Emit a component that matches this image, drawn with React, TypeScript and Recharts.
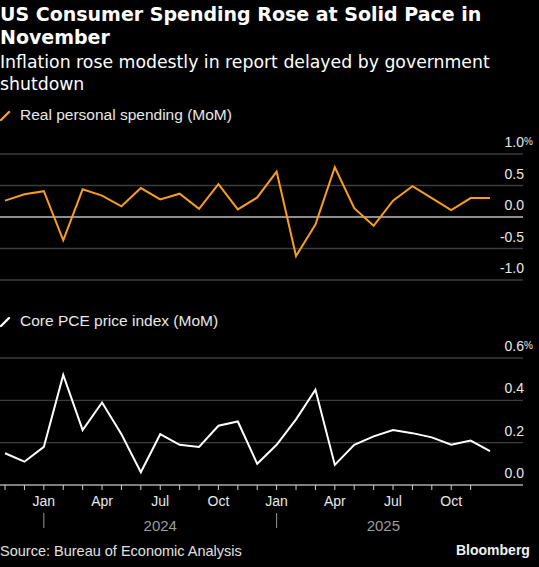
import React from "react";
import { CartesianGrid, Line, LineChart, ReferenceLine, XAxis, YAxis } from "recharts";

const months = [
  "Nov 2023", "Dec 2023", "Jan 2024", "Feb 2024", "Mar 2024", "Apr 2024", "May 2024",
  "Jun 2024", "Jul 2024", "Aug 2024", "Sep 2024", "Oct 2024", "Nov 2024", "Dec 2024",
  "Jan 2025", "Feb 2025", "Mar 2025", "Apr 2025", "May 2025", "Jun 2025", "Jul 2025",
  "Aug 2025", "Sep 2025", "Oct 2025", "Nov 2025", "Dec 2025",
];

const realSpending = [
  0.26, 0.36, 0.41, -0.37, 0.44, 0.34, 0.17, 0.46, 0.28, 0.37, 0.13, 0.52, 0.12,
  0.31, 0.72, -0.62, -0.12, 0.79, 0.14, -0.14, 0.26, 0.49, 0.3, 0.11, 0.3, 0.3,
];

const corePce = [
  0.15, 0.11, 0.18, 0.52, 0.26, 0.39, 0.24, 0.06, 0.24, 0.19, 0.18, 0.28, 0.3,
  0.1, 0.19, 0.31, 0.45, 0.095, 0.19, 0.23, 0.26, 0.245, 0.225, 0.19, 0.21, 0.16,
];

const spendingTicks = [-1, -0.5, 0, 0.5, 1];
const pceTicks = [0, 0.2, 0.4, 0.6];
const tickMonths = ["Jan", "Apr", "Jul", "Oct"];
const years = ["2024", "2025"];

const data = months.map((m, i) => ({ i, month: m, spending: realSpending[i], pce: corePce[i] }));
const monthTicks = months.slice(0, -1).map((_, i) => i);

// year labels sit in the middle of the span each year covers on the axis
const yearMid = years.map((y) => {
  const first = months.findIndex((m) => m.endsWith(y));
  const next = months.findIndex((m) => m === `Jan ${Number(y) + 1}`);
  const last = next === -1 ? months.length - 1 : next;
  return { y, mid: (first + last) / 2 };
});

const W = 539;
const X_DOMAIN: [number, number] = [-0.26, 26.7];
const ORANGE = "#fa9d1f";
const FONT = "'Liberation Sans', Arial, sans-serif";
const LABEL_X = 524;

function ValueTick({ y, payload, pctAt }: any) {
  const v = payload.value as number;
  const txt = v.toFixed(1);
  return (
    <g>
      <text x={LABEL_X} y={y - 7} textAnchor="end" fill="#e8e8e8" fontSize={14} fontFamily={FONT}>
        {txt}
      </text>
      {v === pctAt && (
        <text x={LABEL_X} y={y - 9} textAnchor="start" fill="#e8e8e8" fontSize={10} fontFamily={FONT}>
          %
        </text>
      )}
    </g>
  );
}

function MonthTick({ x, y, payload }: any) {
  const [m] = months[payload.value].split(" ");
  if (!tickMonths.includes(m)) return null;
  return (
    <g>
      <text x={x} y={y + 14} textAnchor="middle" fill="#e8e8e8" fontSize={14} fontFamily={FONT}>
        {m}
      </text>
      {m === "Jan" && <line x1={x} x2={x} y1={y + 21} y2={y + 36} stroke="#9a9a9a" strokeWidth={1} />}
    </g>
  );
}

function YearTick({ x, y, payload }: any) {
  const item = yearMid.find((d) => d.mid === payload.value);
  return (
    <text x={x} y={y + 10} textAnchor="middle" fill="#9c9c9c" fontSize={15} fontFamily={FONT}>
      {item ? item.y : ""}
    </text>
  );
}

function LegendItem({ color, label, top }: { color: string; label: string; top: number }) {
  return (
    <div style={{ position: "absolute", left: 0, top, display: "flex", alignItems: "center", height: 18 }}>
      <svg width={14} height={14} style={{ marginRight: 6 }}>
        <line x1={1} y1={12} x2={9} y2={4} stroke={color} strokeWidth={2.4} strokeLinecap="round" />
      </svg>
      <span style={{ color: "#e8e8e8", fontSize: 15.5, fontFamily: FONT }}>{label}</span>
    </div>
  );
}

export default function App() {
  return (
    <div
      style={{
        position: "absolute",
        left: 0,
        top: 0,
        width: W,
        height: 567,
        background: "#000",
        overflow: "hidden",
      }}
    >
      <div
        style={{
          position: "absolute",
          top: 3,
          left: 0,
          width: 536,
          color: "#fff",
          fontFamily: "'DejaVu Sans', sans-serif",
          fontWeight: 700,
          fontSize: 19,
          lineHeight: "23px",
        }}
      >
        US Consumer Spending Rose at Solid Pace in November
      </div>
      <div
        style={{
          position: "absolute",
          top: 51,
          left: 0,
          width: 536,
          color: "#fff",
          fontFamily: "'DejaVu Sans', sans-serif",
          fontSize: 17.3,
          lineHeight: "22px",
        }}
      >
        Inflation rose modestly in report delayed by government shutdown
      </div>

      <LegendItem color={ORANGE} label="Real personal spending (MoM)" top={106} />

      <div style={{ position: "absolute", top: 128, left: 0 }}>
        <LineChart width={W} height={162} data={data} margin={{ top: 26, right: 0, bottom: 10, left: 0 }}>
          <CartesianGrid vertical={false} stroke="#3d3d3d" strokeWidth={1.3} />
          <XAxis dataKey="i" type="number" domain={X_DOMAIN} hide allowDataOverflow />
          <YAxis
            orientation="right"
            width={16}
            domain={[-1, 1]}
            ticks={spendingTicks}
            axisLine={false}
            tickLine={false}
            tick={<ValueTick pctAt={1} />}
          />
          <ReferenceLine y={0} stroke="#f0f0f0" strokeWidth={1.2} />
          <Line
            dataKey="spending"
            stroke={ORANGE}
            strokeWidth={2}
            dot={false}
            type="linear"
            isAnimationActive={false}
          />
        </LineChart>
      </div>

      <LegendItem color="#ffffff" label="Core PCE price index (MoM)" top={312} />

      <div style={{ position: "absolute", top: 332, left: 0 }}>
        <LineChart width={W} height={203} data={data} margin={{ top: 26, right: 0, bottom: 0, left: 0 }}>
          <CartesianGrid vertical={false} stroke="#3d3d3d" strokeWidth={1.3} />
          <XAxis
            dataKey="i"
            type="number"
            domain={X_DOMAIN}
            allowDataOverflow
            ticks={monthTicks}
            interval={0}
            height={28}
            tickSize={5}
            stroke="#d0d0d0"
            tickLine={{ stroke: "#d0d0d0" }}
            axisLine={{ stroke: "#d0d0d0", strokeWidth: 1.2 }}
            tick={<MonthTick />}
          />
          <XAxis
            xAxisId="year"
            dataKey="i"
            type="number"
            domain={X_DOMAIN}
            allowDataOverflow
            ticks={yearMid.map((d) => d.mid)}
            interval={0}
            height={22}
            axisLine={false}
            tickLine={false}
            tick={<YearTick />}
          />
          <YAxis
            orientation="right"
            width={16}
            domain={[0, 0.6]}
            ticks={pceTicks}
            axisLine={false}
            tickLine={false}
            tick={<ValueTick pctAt={0.6} />}
          />
          <Line
            dataKey="pce"
            stroke="#ffffff"
            strokeWidth={2}
            dot={false}
            type="linear"
            isAnimationActive={false}
          />
        </LineChart>
      </div>

      <div
        style={{
          position: "absolute",
          top: 542,
          left: 0,
          color: "#e0e0e0",
          fontSize: 14.5,
          fontFamily: FONT,
          lineHeight: "18px",
        }}
      >
        Source: Bureau of Economic Analysis
      </div>
      <div
        style={{
          position: "absolute",
          top: 541,
          left: 456,
          color: "#f0f0f0",
          fontSize: 14,
          fontWeight: 700,
          fontFamily: FONT,
          lineHeight: "18px",
        }}
      >
        Bloomberg
      </div>
    </div>
  );
}
